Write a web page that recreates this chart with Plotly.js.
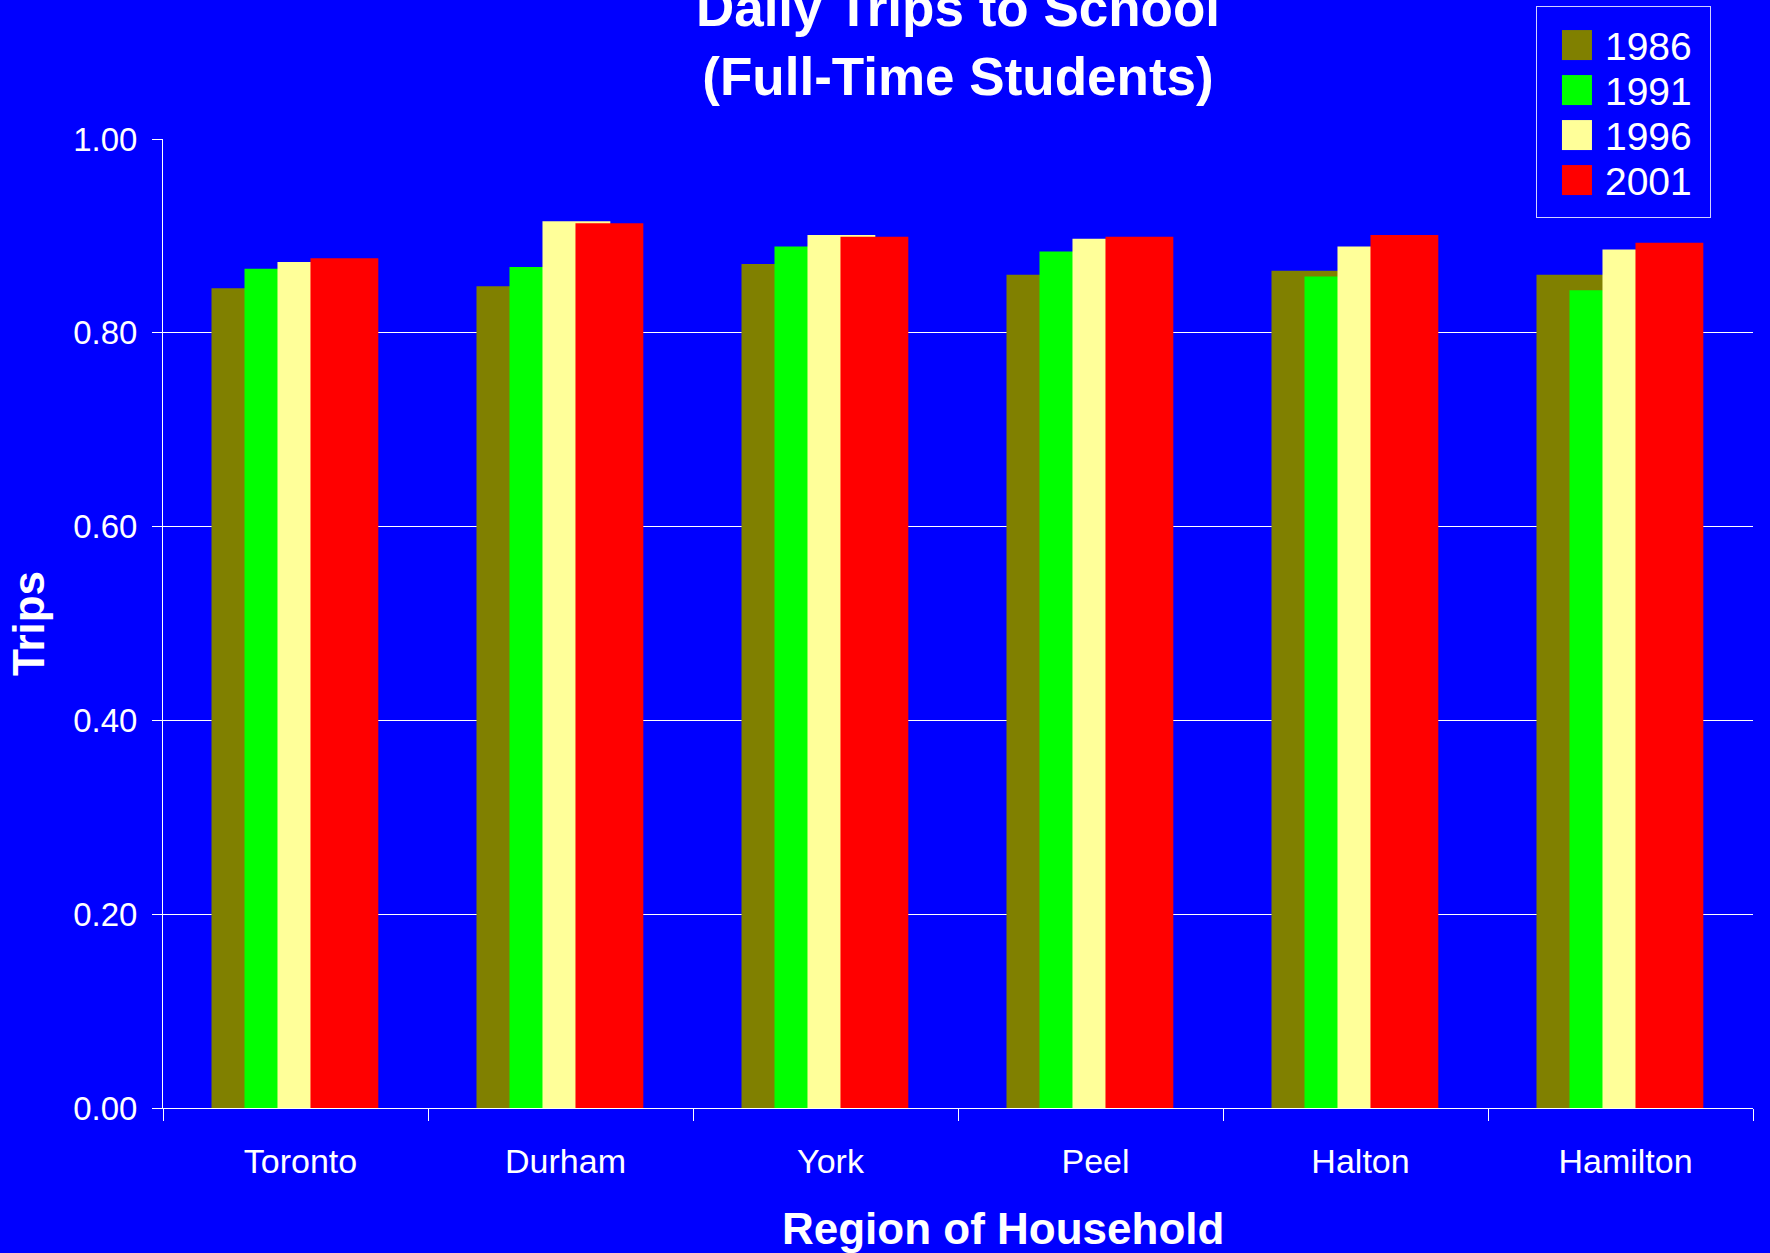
<!DOCTYPE html>
<html>
<head>
<meta charset="utf-8">
<script src="https://cdn.plot.ly/plotly-3.0.1.min.js"></script>
<style>
  html, body { margin: 0; padding: 0; background: #0000FF; }
  #chart { width: 1770px; height: 1253px; }
</style>
</head>
<body>
<div id="chart"></div>
<script>
// ---- Data ----
const regions = ["Toronto", "Durham", "York", "Peel", "Halton", "Hamilton"];
const years = ["1986", "1991", "1996", "2001"];
const trips1986 = [0.846, 0.848, 0.871, 0.860, 0.864, 0.860];
const trips1991 = [0.866, 0.868, 0.889, 0.884, 0.858, 0.844];
const trips1996 = [0.873, 0.915, 0.901, 0.897, 0.889, 0.886];
const trips2001 = [0.877, 0.913, 0.899, 0.899, 0.901, 0.893];
const yTicks = [0, 0.2, 0.4, 0.6, 0.8, 1.0];

// ---- Styles ----
const seriesValues = [trips1986, trips1991, trips1996, trips2001];
const colors = ["#808000", "#00FF00", "#FFFF99", "#FF0000"];
const barWidth = 0.256;
const firstOffset = -0.317;
const step = 0.1245;
const FONT = "'Liberation Sans', Arial, Helvetica, sans-serif";

const traces = years.map((yr, i) => ({
  type: "bar",
  name: yr,
  x: regions,
  y: seriesValues[i],
  width: barWidth,
  offset: firstOffset + step * i,
  marker: { color: colors[i], line: { width: 0 } },
  hoverinfo: "x+y+name"
}));

const layout = {
  width: 1770,
  height: 1253,
  paper_bgcolor: "#0000FF",
  plot_bgcolor: "#0000FF",
  barmode: "overlay",
  margin: { l: 163, r: 17, t: 139, b: 145, pad: 0, autoexpand: false },
  font: { family: FONT, color: "#FFFFFF", size: 34 },
  title: {
    text: "<b>Daily Trips to School</b><br><b>(Full-Time Students)</b>",
    font: { family: FONT, size: 53, color: "#FFFFFF" },
    xref: "paper",
    x: 0.5,
    xanchor: "center",
    yref: "paper",
    y: 1,
    yanchor: "bottom",
    pad: { b: 113 }
  },
  xaxis: {
    type: "category",
    tickson: "boundaries",
    ticks: "outside",
    ticklen: 12,
    tickwidth: 1,
    tickcolor: "#FFFFFF",
    showgrid: false,
    showline: true,
    linecolor: "#FFFFFF",
    linewidth: 1,
    tickfont: { family: FONT, size: 34, color: "#FFFFFF" },
    ticklabelstandoff: 23,
    ticklabelshift: 5,
    zeroline: false,
    automargin: false,
    fixedrange: true
  },
  yaxis: {
    range: [0, 1.0],
    tickvals: yTicks,
    tickformat: ".2f",
    ticks: "outside",
    ticklen: 10,
    tickwidth: 1,
    tickcolor: "#FFFFFF",
    showgrid: true,
    gridcolor: "#FFFFFF",
    gridwidth: 1,
    showline: true,
    linecolor: "#FFFFFF",
    linewidth: 1,
    zeroline: true,
    zerolinecolor: "#FFFFFF",
    zerolinewidth: 1,
    tickfont: { family: FONT, size: 33, color: "#FFFFFF" },
    ticklabelstandoff: 8,
    title: {
      text: "<b>Trips</b>",
      font: { family: FONT, size: 44, color: "#FFFFFF" },
      standoff: 14
    },
    automargin: true,
    fixedrange: true
  },
  annotations: [{
    text: "<b>Region of Household</b>",
    xref: "paper",
    yref: "paper",
    x: 0.528,
    y: -0.124,
    xanchor: "center",
    yanchor: "middle",
    showarrow: false,
    font: { family: FONT, size: 44, color: "#FFFFFF" }
  }],
  showlegend: true,
  legend: {
    xref: "paper",
    yref: "paper",
    x: 0.8635,
    y: 1.1372,
    xanchor: "left",
    yanchor: "top",
    bgcolor: "#0000FF",
    bordercolor: "#D0D0FF",
    borderwidth: 1,
    font: { family: FONT, size: 39, color: "#FFFFFF" },
    itemwidth: 58,
    entrywidth: 141,
    traceorder: "normal"
  }
};

Plotly.newPlot("chart", traces, layout, { staticPlot: true, displayModeBar: false }).then(() => {
  // Reference legend: large colour squares, tight rows (45px apart), box 175x211px
  const legendTop = 39, rowGap = 45, boxWidth = 174, boxHeight = 211;
  document.querySelectorAll(".legend .legendpoints path").forEach(p => {
    p.setAttribute("d", "M21,15H-9V-15H21Z");
  });
  document.querySelectorAll(".legend .traces").forEach((g, i) => {
    const t = g.getAttribute("transform") || "";
    const m = t.match(/translate\(\s*([-\d.]+)/);
    const x = m ? parseFloat(m[1]) : 1;
    g.setAttribute("transform", "translate(" + x + "," + (legendTop + rowGap * i) + ")");
  });
  const bg = document.querySelector(".legend rect.bg");
  if (bg) {
    bg.setAttribute("height", boxHeight);
    bg.setAttribute("width", boxWidth);
  }
});
</script>
</body>
</html>
